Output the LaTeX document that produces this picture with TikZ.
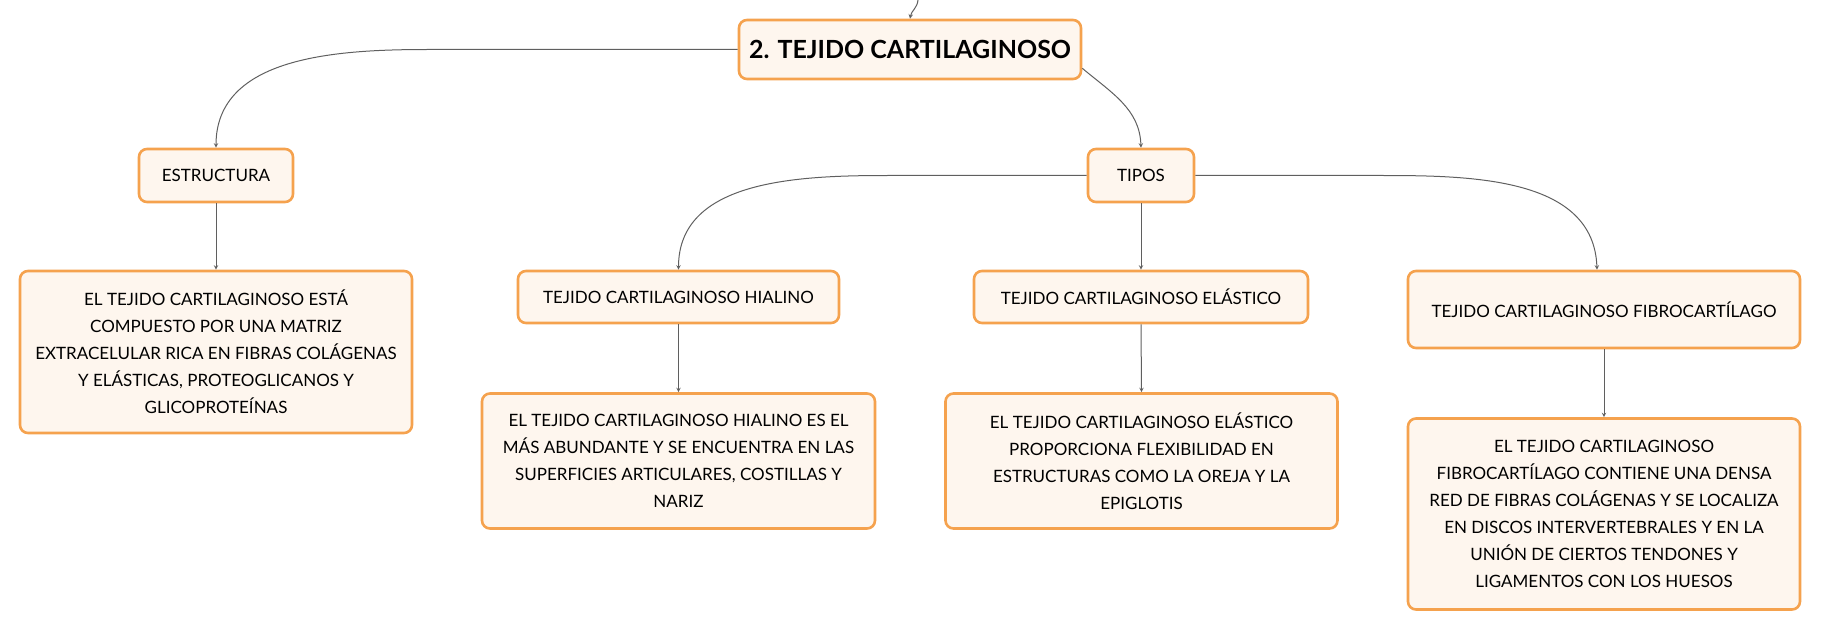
\documentclass[tikz,border=0pt]{standalone}
\usepackage{fontspec}
\setmainfont{Lato}
\usepackage{tikz}
\usetikzlibrary{arrows, positioning}
\tikzset{>=stealth}
\definecolor{boxline}{HTML}{F5A24E}
\definecolor{boxfill}{HTML}{FEF6EE}
\definecolor{linkgray}{HTML}{5F5F5F}
\tikzset{
  topic/.style={draw=boxline, fill=boxfill, line width=2.6pt, rounded corners=8pt,
    align=center, inner sep=4pt, font=\fontsize{17}{27}\selectfont},
  link/.style={->, draw=linkgray, line width=1pt}
}

\begin{document}
\begin{tikzpicture}[x=1pt, y=-1pt]
            \useasboundingbox (0,0) rectangle (1821,631);
            \node[topic, minimum width=342, minimum height=59, font=\fontsize{25}{27}\selectfont\bfseries] (tejido) at (910,49.5) {2. TEJIDO CARTILAGINOSO};
            \node[topic, minimum width=154, minimum height=53] (estructura) at (216,175.5) {ESTRUCTURA};
            \node[topic, minimum width=106, minimum height=53] (tipos) at (1141,175.5) {TIPOS};
            \node[topic, minimum width=392, minimum height=162] (estrdesc) at (216,352) {EL TEJIDO CARTILAGINOSO ESTÁ\\COMPUESTO POR UNA MATRIZ\\EXTRACELULAR RICA EN FIBRAS COLÁGENAS\\Y ELÁSTICAS, PROTEOGLICANOS Y\\GLICOPROTEÍNAS};
            \node[topic, minimum width=321, minimum height=52] (hialino) at (678.5,297) {TEJIDO CARTILAGINOSO HIALINO};
            \node[topic, minimum width=334, minimum height=52] (elastico) at (1141,297) {TEJIDO CARTILAGINOSO ELÁSTICO};
            \node[topic, minimum width=392, minimum height=77] (fibro) at (1604,309.5) {TEJIDO CARTILAGINOSO FIBROCARTÍLAGO};
            \node[topic, minimum width=393, minimum height=135] (hialdesc) at (678.5,461) {EL TEJIDO CARTILAGINOSO HIALINO ES EL\\MÁS ABUNDANTE Y SE ENCUENTRA EN LAS\\SUPERFICIES ARTICULARES, COSTILLAS Y\\NARIZ};
            \node[topic, minimum width=392, minimum height=135] (elasdesc) at (1141.5,461) {EL TEJIDO CARTILAGINOSO ELÁSTICO\\PROPORCIONA FLEXIBILIDAD EN\\ESTRUCTURAS COMO LA OREJA Y LA\\EPIGLOTIS};
            \node[topic, minimum width=392, minimum height=191] (fibrodesc) at (1604,514) {EL TEJIDO CARTILAGINOSO\\FIBROCARTÍLAGO CONTIENE UNA DENSA\\RED DE FIBRAS COLÁGENAS Y SE LOCALIZA\\EN DISCOS INTERVERTEBRALES Y EN LA\\UNIÓN DE CIERTOS TENDONES Y\\LIGAMENTOS CON LOS HUESOS};
            \coordinate (arriba) at (918,0);
            \draw[link] (arriba) to[out=-95,in=80] (tejido.north);
            \draw[link] (tejido.west) -- ++(-309,0) to[out=180,in=90] (estructura.north);
            \draw[link] ([yshift=12]tejido.south east) to[out=-40,in=92] (tipos.north);
            \draw[link] (tipos.west) -- ++(-198,0) to[out=180,in=90] (hialino.north);
            \draw[link] (tipos.east) -- ++(186,0) to[out=0,in=92] ([xshift=-7]fibro.north);
            \draw[link] (tipos.south) -- (elastico.north);
            \draw[link] (estructura.south) -- (estrdesc.north);
            \draw[link] (hialino.south) -- (hialdesc.north);
            \draw[link] (elastico.south) -- (elasdesc.north);
            \draw[link] (fibro.south) -- (fibrodesc.north);
\end{tikzpicture}
\end{document}
